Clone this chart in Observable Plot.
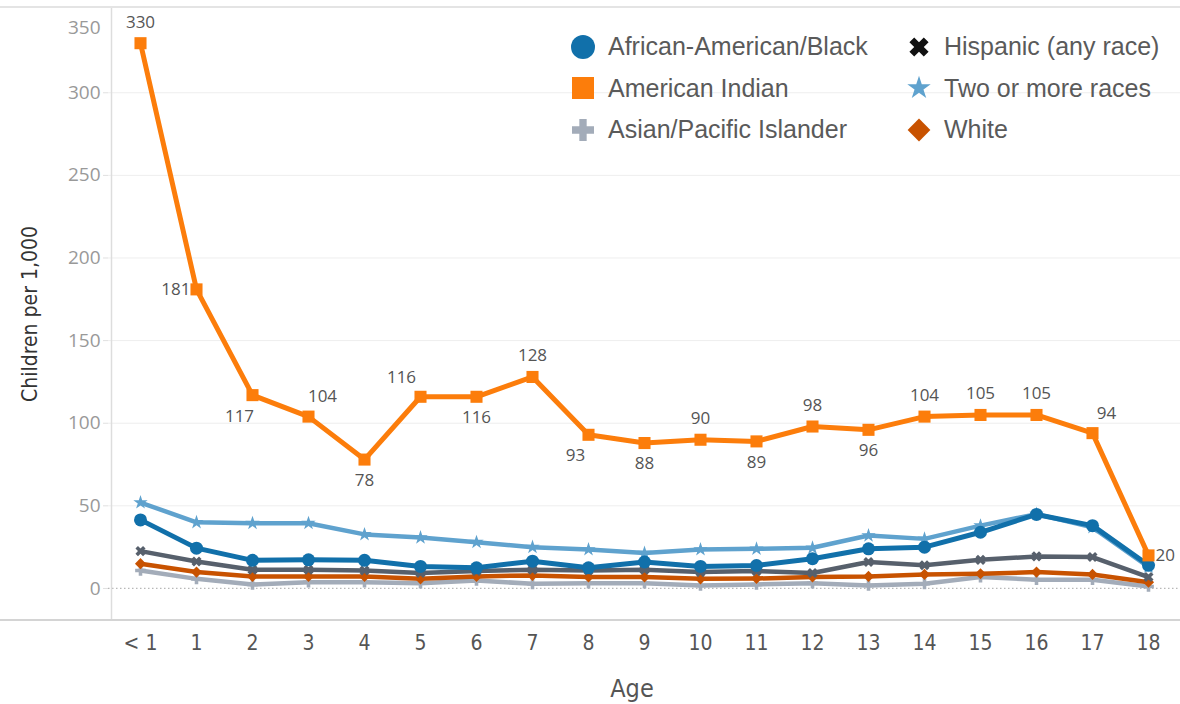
<!DOCTYPE html>
<html>
<head>
<meta charset="utf-8">
<script src="https://cdn.jsdelivr.net/npm/d3@7"></script>
<script src="https://cdn.jsdelivr.net/npm/@observablehq/plot@0.6"></script>
<style>
  html, body { margin: 0; padding: 0; background: #fff; }
  #wrap { position: relative; width: 1180px; height: 704px; overflow: hidden; }
  #chart { position: absolute; left: 0; top: 0; }
  .hline { position: absolute; left: 0; width: 1180px; }
  .ylab { position: absolute; left: 30px; top: 314px; transform: translate(-50%, -50%) rotate(-90deg);
          font-family: "Liberation Sans Narrow", "DejaVu Sans Condensed", sans-serif; font-size: 21px; color: #333; white-space: nowrap; }
  .xlab { position: absolute; left: 632px; top: 688px; transform: translate(-50%, -50%);
          font-family: "Liberation Sans Narrow", "DejaVu Sans Condensed", sans-serif; font-size: 25px; color: #555; }
  #legend { position: absolute; left: 570px; top: 26px; display: grid; grid-template-columns: 336px 260px; grid-auto-rows: 41.5px;
            font-family: "Liberation Sans", Arial, sans-serif; font-size: 25px; color: #5a5a5a; }
  #legend .item { display: flex; align-items: center; white-space: nowrap; }
  #legend svg { width: 26px; height: 26px; margin-right: 12px; flex: none; }
</style>
</head>
<body>
<div id="wrap">
  <div id="chart"></div>
  <div class="hline" style="top:6px;height:2px;background:#e4e4e4;"></div>
  <div class="hline" style="top:619px;height:2px;background:#d4d4d4;"></div>
  <div class="ylab">Children per 1,000</div>
  <div class="xlab">Age</div>
  <div id="legend"></div>
</div>
<script>
// ---- Data ----
const ages = ["< 1","1","2","3","4","5","6","7","8","9","10","11","12","13","14","15","16","17","18"];
const africanAmerican = [41.5,24.4,17,17.3,17,13.3,12.5,16.5,12.5,16,13.3,13.9,18,24,25,34,44.8,38,14];
const americanIndian  = [330,181,117,104,78,116,116,128,93,88,90,89,98,96,104,105,105,94,20];
const asianPacific    = [10.9,5.8,2.4,3.8,3.8,3.2,4.8,2.8,3.2,3.2,1.8,2.4,3.2,1.8,2.8,6.9,5.3,5.3,1.2];
const hispanic        = [22.6,16.3,11.3,11.3,10.9,9.3,10.5,11.3,10.9,11.3,9.9,10.5,9.3,16,14,17.3,19.4,19,6.9];
const twoOrMore       = [52,40,39.5,39.5,32.7,30.8,28,25,23.6,21.4,23.6,24,24.6,32,30,38,45,37,13];
const white           = [15,9.9,7.3,7.3,7.3,5.8,7.3,7.9,6.9,6.9,5.8,6,6.9,7.3,8.5,8.9,9.9,8.5,3.8];
// where each American Indian value label sits relative to its point
const labelPlacement = ["top","left","bottomLeft","topRight","bottom","topLeft","bottom","top","bottomLeft","bottom",
                        "top","bottom","top","bottom","top","top","top","topRight","right"];
const yTicks = [0,50,100,150,200,250,300];
const yTopTick = [350];
const gridLines = [50,100,150,200,250,300];

// custom filled "X" symbol (rotated cross)
const symbolX = {
  draw(context, size) {
    const r = Math.sqrt(size / 5) / 2;
    const pts = [[-3*r,-r],[-r,-r],[-r,-3*r],[r,-3*r],[r,-r],[3*r,-r],[3*r,r],[r,r],[r,3*r],[-r,3*r],[-r,r],[-3*r,r]];
    const c = Math.SQRT1_2;
    pts.forEach(([x, y], i) => {
      const X = (x - y) * c, Y = (x + y) * c;
      if (i) context.lineTo(X, Y); else context.moveTo(X, Y);
    });
    context.closePath();
  }
};

const series = [
  {name: "African-American/Black", values: africanAmerican, color: "#1170aa", symbol: d3.symbolCircle, r: 6.5, w: 5, lsize: 452},
  {name: "American Indian", values: americanIndian, color: "#fc7d0b", symbol: d3.symbolSquare, r: 6.8, w: 5, lsize: 484},
  {name: "Asian/Pacific Islander", values: asianPacific, color: "#a3acb9", symbol: d3.symbolCross, r: 4.5, w: 4.5, lsize: 269},
  {name: "Hispanic (any race)", values: hispanic, color: "#57606c", symbol: symbolX, r: 4.5, w: 4.5, lsize: 230, lcolor: "#111"},
  {name: "Two or more races", values: twoOrMore, color: "#5fa2ce", symbol: d3.symbolStar, r: 4.5, w: 4.5, lsize: 170},
  {name: "White", values: white, color: "#c85200", symbol: d3.symbolDiamond2, r: 5, w: 4.5, lsize: 330}
];
const drawOrder = ["Asian/Pacific Islander","White","Hispanic (any race)","Two or more races","African-American/Black","American Indian"];

const rowsOf = s => ages.map((age, i) => ({age, value: s.values[i]}));

const placements = {
  top:        {dx: 0,   dy: -21, textAnchor: "middle"},
  bottom:     {dx: 0,   dy: 21,  textAnchor: "middle"},
  left:       {dx: -6,  dy: 0,   textAnchor: "end"},
  right:      {dx: 7,   dy: 0,   textAnchor: "start"},
  topLeft:    {dx: -19, dy: -19, textAnchor: "middle"},
  topRight:   {dx: 14,  dy: -20, textAnchor: "middle"},
  bottomLeft: {dx: -13, dy: 21,  textAnchor: "middle"}
};
const aiRows = ages.map((age, i) => ({age, value: americanIndian[i], place: labelPlacement[i]}));

const marks = [
  Plot.ruleY(gridLines, {stroke: "#eeeeee", strokeWidth: 1}),
  Plot.ruleY([0], {stroke: "#b8b8b8", strokeWidth: 1.2, strokeDasharray: "1.5,2.5"}),
  Plot.ruleX([ages[0]], {dx: -29, stroke: "#dddddd", strokeWidth: 1.5}),
  Plot.axisY(yTicks, {tickSize: 5, stroke: "#e0e0e0", tickPadding: 3, fill: "#999", fontSize: 19,
                      fontFamily: "'Open Sans', sans-serif", label: null}),
  Plot.axisY(yTopTick, {tickSize: 0, tickPadding: 8, dy: 18, fill: "#999", fontSize: 19,
                      fontFamily: "'Open Sans', sans-serif", label: null}),
  Plot.axisX({tickSize: 0, tickPadding: 15, fill: "#555", fontSize: 21,
              fontFamily: "'Liberation Sans Narrow', 'DejaVu Sans Condensed', sans-serif", label: null})
];
for (const name of drawOrder) {
  const s = series.find(d => d.name === name);
  const rows = rowsOf(s);
  marks.push(Plot.line(rows, {x: "age", y: "value", stroke: s.color, strokeWidth: s.w, strokeLinejoin: "round"}));
  marks.push(Plot.dot(rows, {x: "age", y: "value", fill: s.color, stroke: "none", symbol: s.symbol, r: s.r}));
}
for (const [key, p] of Object.entries(placements)) {
  marks.push(Plot.text(aiRows.filter(d => d.place === key), {
    x: "age", y: "value", text: d => String(d.value), dx: p.dx, dy: p.dy, textAnchor: p.textAnchor,
    fill: "#555", fontSize: 17, fontFamily: "'Open Sans', sans-serif"
  }));
}

const chart = Plot.plot({
  width: 1180, height: 704,
  marginLeft: 108, marginRight: 0, marginTop: 8, marginBottom: 84,
  x: {type: "point", domain: ages, padding: 0.5, label: null, axis: null},
  y: {domain: [-19.4, 351], label: null, axis: null},
  style: {background: "transparent", overflow: "visible"},
  marks
});
document.getElementById("chart").appendChild(chart);

// legend (HTML)
const legend = document.getElementById("legend");
const legendOrder = ["African-American/Black","Hispanic (any race)","American Indian","Two or more races","Asian/Pacific Islander","White"];
for (const name of legendOrder) {
  const s = series.find(d => d.name === name);
  const item = document.createElement("div");
  item.className = "item";
  const path = d3.symbol(s.symbol, s.lsize)();
  item.innerHTML = `<svg viewBox="-13 -13 26 26"><path d="${path}" fill="${s.lcolor || s.color}"/></svg><span>${s.name}</span>`;
  legend.appendChild(item);
}
</script>
</body>
</html>
